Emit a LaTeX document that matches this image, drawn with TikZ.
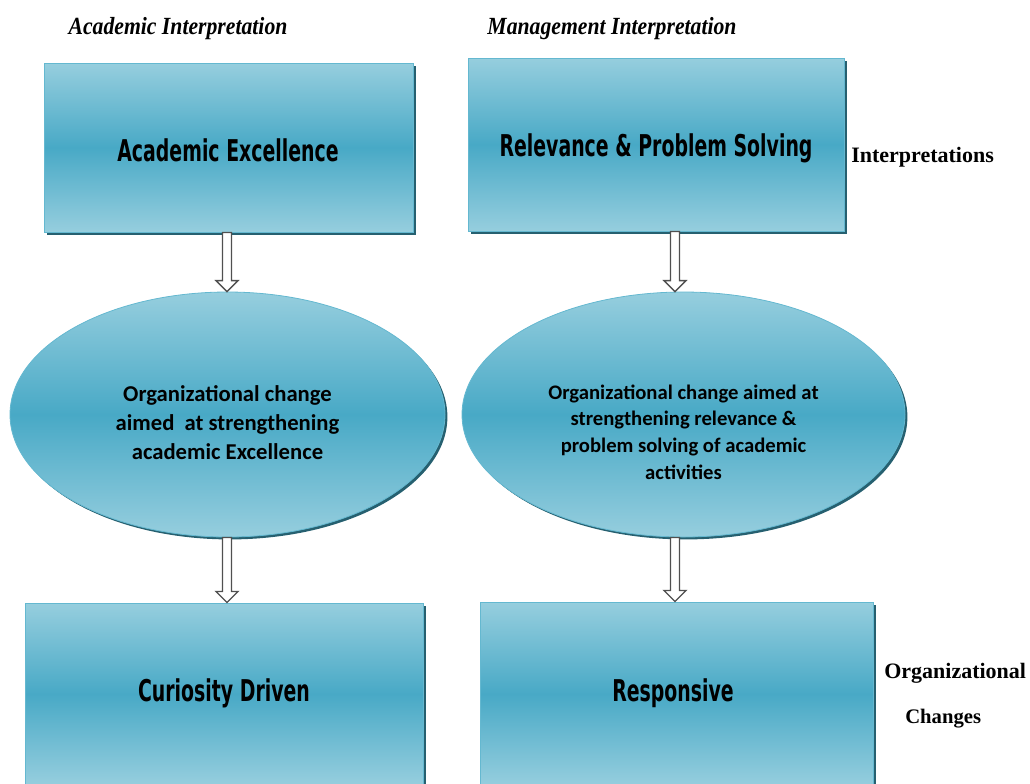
\documentclass[tikz,border=0pt]{standalone}
\usepackage{fontspec}
\setmainfont{Liberation Serif}
\newfontfamily\agency[FakeStretch=0.63]{DejaVu Sans}
\newfontfamily\calib{Carlito}
\newfontfamily\labelfont[FakeStretch=0.88]{Liberation Serif}
\usetikzlibrary{shapes.geometric,calc,shadows}
\definecolor{boxlight}{RGB}{150,206,222}
\definecolor{boxdark}{RGB}{72,169,198}
\definecolor{boxedge}{RGB}{100,184,208}
\definecolor{boxshadow}{RGB}{38,96,112}
\definecolor{arrowedge}{RGB}{80,80,80}
\newcommand\pxu{0.75pt}
\newcommand\hollowarrow[2]{%
  \draw[harrow] ($(#1)+(-4.5,0)$) -- ($(#2)+(-4.5,-11)$) -- ($(#2)+(-11,-11)$) -- (#2)
    -- ($(#2)+(11,-11)$) -- ($(#2)+(4.5,-11)$) -- ($(#1)+(4.5,0)$) -- cycle;}
\begin{document}
\begin{tikzpicture}[x=0.75pt,y=-0.75pt,
  bluebox/.style={rectangle, draw=boxedge, line width=1*\pxu, inner sep=0pt,
    top color=boxlight, bottom color=boxlight, middle color=boxdark,
    drop shadow={shadow xshift=2.6pt, shadow yshift=-2.6pt, fill=boxshadow, opacity=1}},
  boxtext/.style={inner sep=0pt, font=\agency\bfseries\fontsize{22.5pt}{26pt}\selectfont},
  blueoval/.style={ellipse, draw=boxedge, line width=0.8*\pxu, inner sep=0pt,
    top color=boxlight, bottom color=boxlight, middle color=boxdark,
    drop shadow={shadow xshift=1.8pt, shadow yshift=-1.8pt, fill=boxshadow, opacity=1}},
  ovaltext/.style={inner sep=0pt, align=center},
  harrow/.style={draw=arrowedge, fill=white, line width=1.3*\pxu, line join=miter},
  headlabel/.style={anchor=center, inner sep=0pt, font=\labelfont\bfseries\itshape\fontsize{18.5pt}{22pt}\selectfont},
  sidelabel/.style={anchor=west, inner sep=0pt, font=\bfseries\fontsize{16.5pt}{20pt}\selectfont}
]
\useasboundingbox (0,0) rectangle (1030,783);
\clip (0,0) rectangle (1030,783);

% headings
\node[headlabel] (hacad) at (178,29) {Academic Interpretation};
\node[headlabel] (hman) at (612,29) {Management Interpretation};

% top boxes
\node[bluebox, minimum width=369*\pxu, minimum height=169*\pxu] (b1) at (228.5,147.5) {};
\node[boxtext] (b1t) at (228,150) {Academic Excellence};
\node[bluebox, minimum width=376*\pxu, minimum height=173*\pxu] (b2) at (656,144.5) {};
\node[boxtext] (b2t) at (656,148) {Relevance \& Problem Solving};

% ellipses
\node[blueoval, minimum width=435*\pxu, minimum height=245*\pxu] (e1) at (227.5,414.5) {};
\node[ovaltext, font=\calib\bfseries\fontsize{17pt}{21.75pt}\selectfont] (e1t) at (227.5,423)
  {Organizational change\\aimed\ \ at strengthening\\academic Excellence};
\node[blueoval, minimum width=443*\pxu, minimum height=245*\pxu] (e2) at (683.5,414.5) {};
\node[ovaltext, font=\calib\bfseries\fontsize{15.5pt}{20pt}\selectfont] (e2t) at (683.5,432)
  {Organizational change aimed at\\strengthening relevance \&\\problem solving of academic\\activities};

% bottom boxes
\node[bluebox, minimum width=398*\pxu, minimum height=182*\pxu] (b3) at (224,694) {};
\node[boxtext] (b3t) at (224,693) {Curiosity Driven};
\node[bluebox, minimum width=393*\pxu, minimum height=184*\pxu] (b4) at (676.5,694) {};
\node[boxtext] (b4t) at (673,693) {Responsive};

% side labels
\node[sidelabel] (lint) at (851,157) {Interpretations};
\node[sidelabel] (lorg) at (884,673) {Organizational};
\node[sidelabel, font=\bfseries\fontsize{15.5pt}{18pt}\selectfont] (lchg) at (905,719) {Changes};

% arrow columns
\coordinate (colL) at (227,0);
\coordinate (colR) at (675,0);
\coordinate (s1) at (colL |- b1.south);
\coordinate (t1) at (colL |- e1.north);
\coordinate (s2) at (colR |- b2.south);
\coordinate (t2) at (colR |- e2.north);
\coordinate (s3) at (colL |- e1.south);
\coordinate (t3) at (colL |- b3.north);
\coordinate (s4) at (colR |- e2.south);
\coordinate (t4) at (colR |- b4.north);
\hollowarrow{s1}{t1}
\hollowarrow{s2}{t2}
\hollowarrow{s3}{t3}
\hollowarrow{s4}{t4}
\end{tikzpicture}
\end{document}
